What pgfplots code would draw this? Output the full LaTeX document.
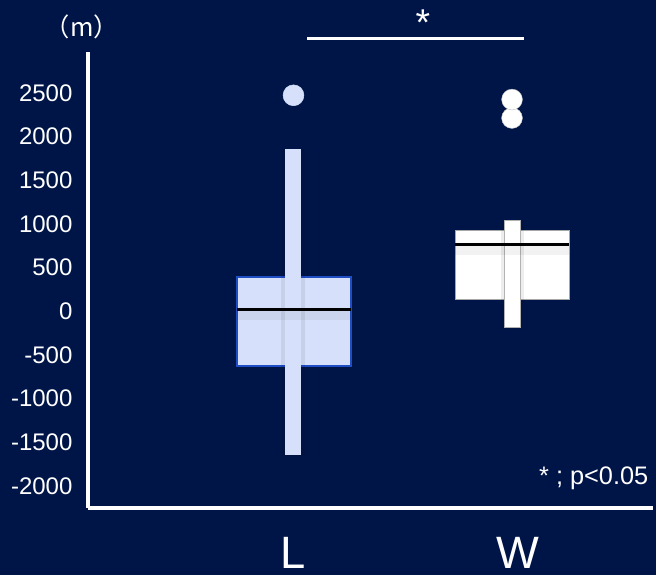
\documentclass[border=0pt]{standalone}
\usepackage{fontspec}
\setmainfont{Liberation Sans}
\newfontfamily\cjk{Noto Sans CJK JP}
\usepackage{pgfplots}
\pgfplotsset{compat=1.18}
\definecolor{bg}{HTML}{001547}
\definecolor{boxL}{HTML}{D6E0FA}
\definecolor{edgeL}{HTML}{1E4DC4}
\begin{document}
\begin{tikzpicture}[x=0.75pt,y=0.75pt]
\useasboundingbox (0,0) rectangle (656,575);
\fill[bg] (0,0) rectangle (656,575);
\begin{axis}[
  at={(88pt*0.75,67pt*0.75)}, anchor=south west,
  scale only axis, width=423.75pt, height=342pt,
  xmin=88, xmax=653, ymin=-2252, ymax=2969,
  axis x line=bottom, axis y line=left,
  axis line style={white, line width=3.6pt, -},
  clip=false,
  ytick={-2000,-1500,...,2500},
  xtick={293,518}, xticklabels={L,W},
  tick style={draw=none},
  /pgf/number format/assume math mode=true,
  /pgf/number format/1000 sep={},
  yticklabel style={font=\fontsize{18}{20}\selectfont, text=white, xshift=-6pt},
  xticklabel style={font=\fontsize{34}{36}\selectfont, text=white, anchor=base, inner sep=0pt, yshift=-43pt},
]
% Box L
\addplot[fill=boxL, draw=edgeL, line width=1.4pt] coordinates {(237,-626) (351,-626) (351,396) (237,396)} -- cycle;
\addplot[draw=none, fill=black, opacity=0.07] coordinates {(281,-1660) (305,-1660) (305,1858) (281,1858)} -- cycle;
\addplot[fill=boxL, draw=none] coordinates {(284.5,-1646) (301,-1646) (301,1858) (284.5,1858)} -- cycle;
\addplot[draw=black, opacity=0.05, line width=8pt] coordinates {(237,-40) (351,-40)};
\addplot[draw=black, line width=1.8pt] coordinates {(237,23) (351,23)};
\addplot[only marks, mark=*, mark size=7.8pt, color=boxL] coordinates {(293.5,2473)};
% Box W
\addplot[fill=white, draw=gray!70, line width=0.6pt] coordinates {(455,141) (569,141) (569,931) (455,931)} -- cycle;
\addplot[draw=none, fill=black, opacity=0.07] coordinates {(501,-200) (524,-200) (524,1045) (501,1045)} -- cycle;
\addplot[fill=white, draw=gray!60, line width=0.5pt] coordinates {(504.5,-183) (520.5,-183) (520.5,1045) (504.5,1045)} -- cycle;
\addplot[draw=black, opacity=0.05, line width=8pt] coordinates {(455,704) (569,704)};
\addplot[draw=black, line width=1.8pt] coordinates {(455,767) (569,767)};
\addplot[only marks, mark=*, mark size=7.8pt, color=white, mark options={draw=gray!50, line width=0.3pt}] coordinates {(512,2213) (512,2425)};
% significance
\addplot[draw=white, line width=2pt] coordinates {(307,3120) (524,3120)};
\node[text=white, font=\fontsize{28}{30}\selectfont] at (axis cs:423,3300) {*};
\node[text=white, font=\cjk\fontsize{19}{21}\selectfont] at (axis cs:82,3256) {（m）};
\node[text=white, font=\fontsize{19}{21}\selectfont, anchor=east] at (axis cs:653,-1909) {* ; p<0.05};
\end{axis}
\end{tikzpicture}
\end{document}
